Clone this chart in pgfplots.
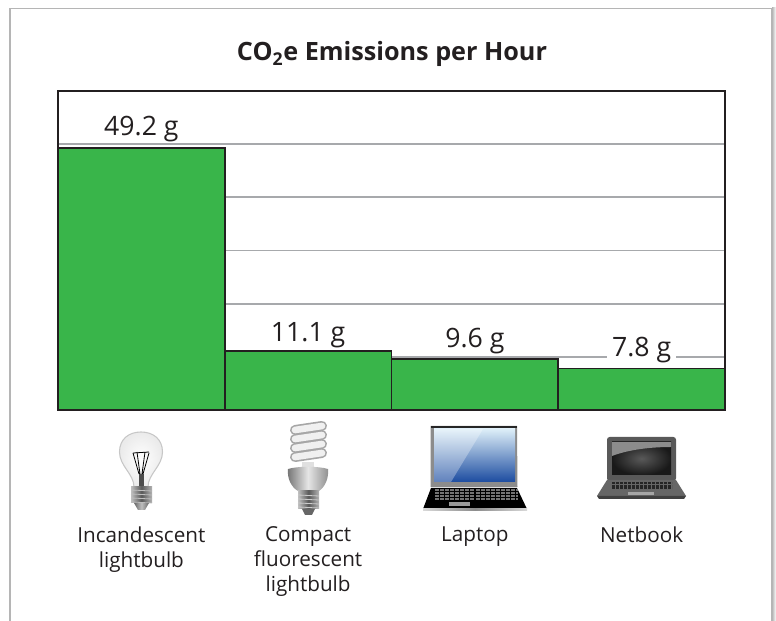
\documentclass[border=0pt]{standalone}
\usepackage{pgfplots}
\pgfplotsset{compat=1.18}
\usepackage{fontspec}
\setmainfont{Open Sans}
\definecolor{ink}{HTML}{231F20}
\definecolor{barg}{HTML}{39B54A}
\definecolor{gridc}{HTML}{A7A9AC}
\definecolor{cardc}{HTML}{B5B5B5}
\definecolor{scrA}{HTML}{DDEEF8}
\definecolor{scrB}{HTML}{46A6E2}
\definecolor{scrC}{HTML}{1C4CA0}
\begin{document}
\begin{tikzpicture}
\path[use as bounding box,fill=white] (0,0) rectangle (582pt,465.75pt);
\begin{scope}[x=.75pt,y=-.75pt,shift={(0pt,465.75pt)}]
\draw[cardc,line width=1.1pt] (10,621)--(10,8.5)--(771.5,8.5)--(771.5,621);
\shade[left color=cardc,right color=white] (772,8) rectangle (776,621);
\node[ink,font=\fontsize{18.9}{22}\selectfont\bfseries,anchor=base] at (392,61) {CO\textsubscript{2}e Emissions per Hour};
\end{scope}
\begin{axis}[
  at={(43.5pt,158.25pt)},anchor=south west,
  width=500.25pt,height=239.25pt,scale only axis,
  xmin=-0.5,xmax=3.5,ymin=0,ymax=60,
  axis line style={ink,line width=1.6pt},
  ymajorgrids,ytick={10,20,30,40,50},yticklabels={},
  major grid style={gridc,line width=1.4pt},
  major tick length=0pt,
  xtick={0,1,2,3},
  xticklabels={{Incandescent\\lightbulb},{Compact\\fluorescent\\lightbulb},{Laptop},{Netbook}},
  xticklabel style={font=\fontsize{15.5}{18.6}\selectfont,text=ink,align=center,anchor=north,yshift=-84pt},
  ybar,bar width=1,bar shift=0pt,
  /pgf/number format/assume math mode=true,
  nodes near coords={\pgfmathprintnumber[fixed,fixed zerofill,precision=1,assume math mode=true]{\pgfplotspointmeta}~g},
  nodes near coords style={font=\fontsize{20}{24}\selectfont,text=ink,inner sep=0pt,anchor=south},
]
\addplot[fill=barg,draw=ink,line width=1.4pt,every node near coord/.append style={yshift=4pt}] coordinates {(0,49.2)};
\addplot[fill=barg,draw=ink,line width=1.4pt,every node near coord/.append style={yshift=1.5pt}] coordinates {(1,11.1)};
\addplot[fill=barg,draw=ink,line width=1.4pt,every node near coord/.append style={yshift=3.25pt}] coordinates {(2,9.6)};
\addplot[fill=barg,draw=ink,line width=1.4pt,every node near coord/.append style={yshift=2.25pt,fill=white,inner xsep=3.5pt,inner ysep=1pt}] coordinates {(3,7.8)};
\end{axis}
\begin{scope}[x=.75pt,y=-.75pt,shift={(0pt,465.75pt)}]
% incandescent bulb
\path[draw=black!22,line width=.8pt,inner color=white,outer color=black!8] (134,487) .. controls (134,474) and (119.5,466) .. (119.5,452) .. controls (119.5,439) and (129,432) .. (141,432) .. controls (153,432) and (162.5,439) .. (162.5,452) .. controls (162.5,466) and (148,474) .. (148,487) -- cycle;
\fill[black!70] (138.5,474) rectangle (143.5,488);
\draw[black,line width=.6pt] (133,453)--(139,474) (149,453)--(143,474) (137,452)--(140,474) (145,452)--(142,474) (133,453)--(149,452);
\shade[left color=black!25,right color=black!30,middle color=black!65] (131,487) rectangle (152,503);
\foreach \y in {490,494,498,502} \draw[black!25,line width=.6pt] (131,\y)--(152,\y+1);
\shade[left color=black!60,right color=black!60,middle color=black!25] (134,503) -- (149,503) -- (145,510) -- (138,510) -- cycle;
% CFL
\foreach \y in {428,437,446,455} \draw[black!35,line width=7.5pt,line cap=round] (295,\y+2)--(322,\y-2);
\foreach \y in {428,437,446,455} \draw[black!6,line width=5pt,line cap=round] (295,\y+2)--(322,\y-2);
\fill[black!12] (302,462) rectangle (314,470);
\shade[left color=black!55,right color=black!45,middle color=black!10] (288,469) .. controls (298,466) and (318,466) .. (328,469) .. controls (329,478) and (325,487) .. (319,491) -- (298,491) .. controls (291,487) and (287,478) .. (288,469) -- cycle;
\shade[left color=black!25,right color=black!30,middle color=black!65] (298,491) rectangle (319,509);
\foreach \y in {495,499,503,507} \draw[black!20,line width=.6pt] (298,\y)--(319,\y+1);
\fill[black!60] (302,509) -- (315,509) -- (312,515) -- (305,515) -- cycle;
% laptop
\fill[black!45] (430.5,426) -- (517,426) -- (517.5,487) -- (430.5,487) -- cycle;
\fill[black!85] (431,426) rectangle (517,428);
\shade[top color=scrA,middle color=scrB,bottom color=scrC] (434,429) rectangle (515,482);
\fill[white,opacity=.3] (434,429) -- (483,429) -- (451,482) -- (434,482) -- cycle;
\fill[black] (431,488) -- (517,488) -- (527,509) -- (423,509) -- cycle;
\foreach \y in {490,493,496,499} \draw[black!55,line width=2pt,dash pattern=on 3pt off .8pt] (435,\y)--(518,\y);
\fill[black!40] (449,502) rectangle (470,506);
\shade[left color=black!15,right color=black!15,middle color=black!45] (423,509) rectangle (527,511);
% netbook
\fill[black!65,rounded corners=2pt] (607,437) rectangle (676,481);
\shade[inner color=black!65,outer color=black!90] (612,442) rectangle (671,475);
\fill[black!45] (612,442) -- (671,442) -- (671,447) .. controls (645,447) and (625,451) .. (612,456) -- cycle;
\fill[black!60] (607,480) -- (676,480) -- (686,496) -- (597,496) -- cycle;
\foreach \y in {483,486,488} \draw[black!85,line width=1.5pt,dash pattern=on 2pt off 1pt] (612,\y)--(672,\y);
\fill[black!35] (628,492) rectangle (654,495);
\fill[black!75] (597,496) -- (686,496) -- (684,499) -- (599,499) -- cycle;
\end{scope}
\end{tikzpicture}
\end{document}
